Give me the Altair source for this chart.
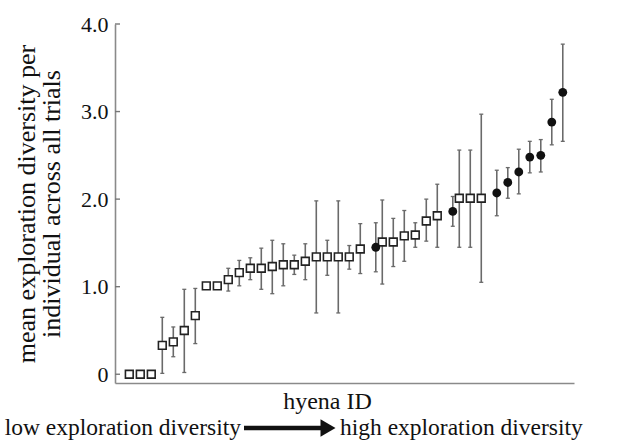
import altair as alt
import pandas as pd

# ranked hyena index (0 = lowest exploration diversity)
rank = list(range(40))
mean_div = [0.0, 0.0, 0.0, 0.33, 0.37, 0.50, 0.67, 1.01, 1.01, 1.08,
            1.16, 1.21, 1.21, 1.23, 1.25, 1.25, 1.29, 1.34, 1.34, 1.34,
            1.34, 1.43, 1.45, 1.51, 1.51, 1.58, 1.59, 1.75, 1.81, 1.86,
            2.01, 2.01, 2.01, 2.07, 2.19, 2.31, 2.48, 2.50, 2.88, 3.22]
upper = [None, None, None, 0.65, 0.54, 0.97, 0.98, None, None, 1.21,
         1.30, 1.33, 1.44, 1.53, 1.49, 1.36, 1.49, 1.98, 1.53, 1.98,
         1.47, 1.72, 1.73, 1.99, 1.78, 1.87, 1.73, 2.00, 2.17, 2.03,
         2.56, 2.56, 2.97, 2.33, 2.36, 2.57, 2.66, 2.68, 3.14, 3.77]
lower = [None, None, None, 0.01, 0.20, 0.02, 0.35, None, None, 0.95,
         1.01, 1.08, 0.97, 0.92, 1.01, 1.14, 1.08, 0.70, 1.13, 0.70,
         1.20, 1.15, 1.17, 1.03, 1.23, 1.29, 1.45, 1.52, 1.45, 1.69,
         1.45, 1.45, 1.05, 1.81, 2.01, 2.06, 2.30, 2.31, 2.62, 2.66]
marker = (["open"] * 22 + ["filled"] + ["open"] * 6 + ["filled"]
          + ["open"] * 3 + ["filled"] * 7)
y_ticks = [0.0, 1.0, 2.0, 3.0, 4.0]

df = pd.DataFrame({"rank": rank, "mean": mean_div, "hi": upper,
                   "lo": lower, "marker": marker})
ticks_df = pd.DataFrame({"t": y_ticks})

FONT = "Liberation Serif"
BAR = "#6a6a6a"
AXC = "#8a8a8a"

xs = alt.Scale(domain=[-1.3, 40.43], nice=False, zero=False)
ys = alt.Scale(domain=[-0.1, 4.0], nice=False, zero=False)

X = alt.X("rank:Q", scale=xs,
          axis=alt.Axis(title="hyena ID", labels=False, ticks=False, grid=False,
                        domainColor=AXC, domainWidth=1.6,
                        titleFont=FONT, titleFontSize=24, titleFontWeight="normal",
                        titleColor="#111", titlePadding=6, titleX=212))
Y = alt.Y("mean:Q", scale=ys,
          axis=alt.Axis(title=["mean exploration diversity per",
                               "individual across all trials"],
                        values=y_ticks, ticks=False, grid=False,
                        labelExpr="datum.value == 0 ? '0' : format(datum.value, '.1f')",
                        labelFont=FONT, labelFontSize=22, labelColor="#111",
                        labelPadding=7,
                        domainColor=AXC, domainWidth=1.6,
                        titleFont=FONT, titleFontSize=26, titleFontWeight="normal",
                        titleColor="#111", titlePadding=16, titleLineHeight=25))

base = alt.Chart(df)


def group_layers(kind, dx):
    sub = base.transform_filter(alt.datum.marker == kind)
    bars = sub.transform_filter("isValid(datum.hi)")
    stem = bars.mark_rule(color=BAR, strokeWidth=1.6, xOffset=dx).encode(
        x=alt.X("rank:Q", scale=xs), y=alt.Y("lo:Q", scale=ys), y2="hi:Q")
    cap_hi = bars.mark_rule(color=BAR, strokeWidth=1.3, xOffset=dx - 2,
                            x2Offset=dx + 2).encode(
        x=alt.X("rank:Q", scale=xs), x2="rank:Q", y=alt.Y("hi:Q", scale=ys))
    cap_lo = bars.mark_rule(color=BAR, strokeWidth=1.3, xOffset=dx - 2,
                            x2Offset=dx + 2).encode(
        x=alt.X("rank:Q", scale=xs), x2="rank:Q", y=alt.Y("lo:Q", scale=ys))
    if kind == "open":
        pts = sub.mark_point(shape="square", filled=True, fill="white",
                             stroke="#222", strokeWidth=1.6, size=60,
                             opacity=1, xOffset=dx).encode(x=X, y=Y)
    else:
        pts = sub.mark_circle(color="#111", size=78, opacity=1,
                              xOffset=dx).encode(x=X, y=Y)
    return [stem, cap_hi, cap_lo, pts]


tick_marks = alt.Chart(ticks_df).mark_rule(color="#777777", strokeWidth=1.4).encode(
    x=alt.value(0), x2=alt.value(5), y=alt.Y("t:Q", scale=ys))

ann = pd.DataFrame({"a": [0]})
low_txt = alt.Chart(ann).mark_text(font=FONT, fontSize=23.5, align="right",
                                   baseline="middle", color="#111",
                                   text="low exploration diversity").encode(
    x=alt.value(126), y=alt.value(404))
high_txt = alt.Chart(ann).mark_text(font=FONT, fontSize=23.5, align="left",
                                    baseline="middle", color="#111",
                                    text="high exploration diversity").encode(
    x=alt.value(225), y=alt.value(404))
arrow_line = alt.Chart(ann).mark_rule(color="#111", strokeWidth=4.5).encode(
    x=alt.value(129), x2=alt.value(206), y=alt.value(404))
arrow_head = alt.Chart(ann).mark_point(shape="triangle-right", filled=True,
                                       color="#111", size=300, opacity=1).encode(
    x=alt.value(213), y=alt.value(404))

layers = (group_layers("open", 0) + group_layers("filled", 4.5)
          + [tick_marks, low_txt, high_txt, arrow_line, arrow_head])

chart = alt.layer(*layers).properties(
    width=459, height=359,
    autosize=alt.AutoSizeParams(type="none"),
    padding={"left": 115, "top": 24, "right": 43, "bottom": 58},
    background="white",
).configure_view(stroke=None)

chart.save("out.html", embed_options={"renderer": "svg", "actions": False})
